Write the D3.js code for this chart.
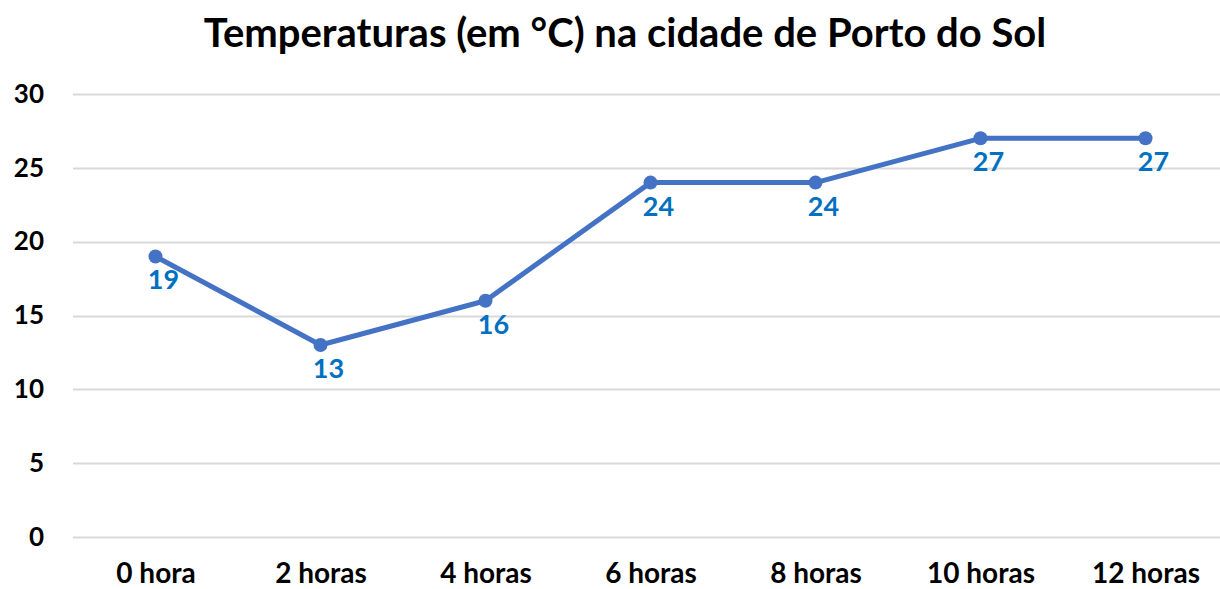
<!DOCTYPE html>
<html>
<head>
<meta charset="utf-8">
<script src="https://cdn.jsdelivr.net/npm/d3@7"></script>
<style>
  body { margin: 0; background: #fff; }
  svg { display: block; font-family: Lato, "Open Sans", sans-serif; font-weight: bold; }
</style>
</head>
<body>
<div id="chart"></div>
<script>
// chart data
const hours = ["0 hora", "2 horas", "4 horas", "6 horas", "8 horas", "10 horas", "12 horas"]
const temps = [19, 13, 16, 24, 24, 27, 27]
const yTicks = [0, 5, 10, 15, 20, 25, 30]
const title = "Temperaturas (em °C) na cidade de Porto do Sol"

const width = 1220
const height = 589
const margin = { top: 94, right: -8, bottom: 52, left: 73 }

const svg = d3.select("#chart")
    .append("svg")
    .attr("width", width)
    .attr("height", height)

const x = d3.scalePoint()
    .domain(hours)
    .range([margin.left, width - margin.right])
    .padding(0.5)

const y = d3.scaleLinear()
    .domain([0, 30])
    .range([height - margin.bottom, margin.top])

// title
svg.append("text")
    .attr("x", 625)
    .attr("y", 47)
    .attr("text-anchor", "middle")
    .attr("font-size", 40)
    .attr("fill", "#000")
    .text(title)

// gridlines
svg.append("g")
    .selectAll("line")
    .data(yTicks)
    .join("line")
    .attr("x1", margin.left)
    .attr("x2", width)
    .attr("y1", d => Math.round(y(d)) + 0.5)
    .attr("y2", d => Math.round(y(d)) + 0.5)
    .attr("stroke", "#d9d9d9")
    .attr("stroke-width", 2)

// y axis labels
const yAxis = d3.axisLeft(y).tickValues(yTicks).tickSize(0).tickPadding(0)
svg.append("g")
    .attr("transform", `translate(44,0)`)
    .call(yAxis)
    .call(g => g.select(".domain").remove())
    .call(g => g.selectAll("text")
        .attr("font-family", "Lato, sans-serif")
        .attr("font-weight", "bold")
        .attr("font-size", 26)
        .attr("fill", "#000"))

// x axis labels
const xAxis = d3.axisBottom(x).tickSize(0).tickPadding(0)
svg.append("g")
    .attr("transform", `translate(0,${height - margin.bottom})`)
    .call(xAxis)
    .call(g => g.select(".domain").remove())
    .call(g => g.selectAll("text")
        .attr("dy", null)
        .attr("y", 46)
        .attr("font-family", "Lato, sans-serif")
        .attr("font-weight", "bold")
        .attr("font-size", 28)
        .attr("fill", "#000"))

const data = hours.map((h, i) => ({ h, v: temps[i] }))

// line
const line = d3.line()
    .x(d => x(d.h))
    .y(d => y(d.v))

svg.append("path")
    .datum(data)
    .attr("fill", "none")
    .attr("stroke", "#4472c4")
    .attr("stroke-width", 5)
    .attr("stroke-linejoin", "round")
    .attr("d", line)

// markers
svg.append("g")
    .selectAll("circle")
    .data(data)
    .join("circle")
    .attr("cx", d => x(d.h))
    .attr("cy", d => y(d.v))
    .attr("r", 7)
    .attr("fill", "#4472c4")

// data labels
svg.append("g")
    .selectAll("text")
    .data(data)
    .join("text")
    .attr("x", d => x(d.h) + 8)
    .attr("y", d => y(d.v) + 33)
    .attr("text-anchor", "middle")
    .attr("font-size", 27)
    .attr("fill", "#0070c0")
    .text(d => d.v)
</script>
</body>
</html>
